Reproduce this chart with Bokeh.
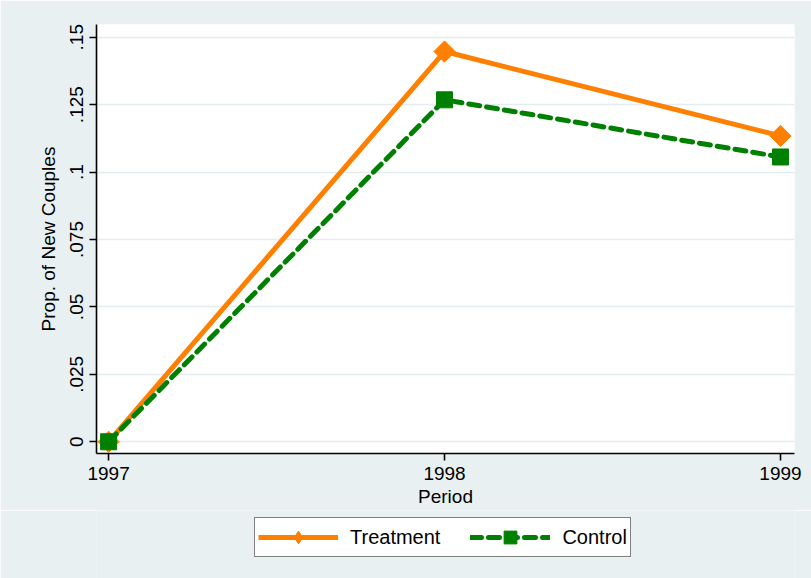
import numpy as np
from bokeh.plotting import figure
from bokeh.models import FixedTicker, Range1d, Legend, LegendItem, BoxAnnotation
from bokeh.layouts import column
from bokeh.embed import file_html
from bokeh.resources import INLINE

years = [1997, 1998, 1999]
treatment = [0.0, 0.1447, 0.1134]
control = [0.0, 0.1268, 0.1056]
y_ticks = [0, 0.025, 0.05, 0.075, 0.1, 0.125, 0.15]
y_tick_labels = ["0", ".025", ".05", ".075", ".1", ".125", ".15"]
x_ticks = [1997, 1998, 1999]
series_names = ["Treatment", "Control"]

BG = "#E8F0F2"
ORANGE = "#FF7F00"
GREEN = "#008000"
FONT = "Liberation Sans"
DASH = "11 7"

p = figure(width=811, height=510, output_backend="svg", toolbar_location=None,
           x_range=Range1d(1996.964, 1999.0417), y_range=Range1d(-0.00435, 0.15472),
           min_border_left=96, min_border_right=17, min_border_top=24, min_border_bottom=57)
p.border_fill_color = BG
p.background_fill_color = "white"
p.outline_line_color = None

p.xaxis.ticker = FixedTicker(ticks=x_ticks)
p.yaxis.ticker = FixedTicker(ticks=y_ticks)
p.yaxis.major_label_overrides = {t: l for t, l in zip(y_ticks, y_tick_labels)}
p.yaxis.major_label_orientation = "vertical"
for ax in (p.xaxis, p.yaxis):
    ax.axis_line_color = "black"
    ax.axis_line_width = 1.6
    ax.major_tick_line_color = "black"
    ax.major_tick_line_width = 1.6
    ax.major_tick_in = 0
    ax.major_tick_out = 7
    ax.minor_tick_line_color = None
    ax.major_label_text_font = FONT
    ax.major_label_text_font_size = "19px"
    ax.major_label_text_color = "black"
    ax.axis_label_text_font = FONT
    ax.axis_label_text_font_size = "19px"
    ax.axis_label_text_font_style = "normal"
    ax.axis_label_text_color = "black"
p.xaxis.axis_label = "Period"
p.yaxis.axis_label = "Prop. of New Couples"
p.xaxis.major_label_standoff = 6
p.xaxis.axis_label_standoff = 3
p.yaxis.major_label_standoff = 6
p.yaxis.axis_label_standoff = 9

p.xgrid.grid_line_color = None
p.ygrid.grid_line_color = "#E3ECEF"
p.ygrid.grid_line_width = 1.5

p.line(years, treatment, line_color=ORANGE, line_width=5, line_join="round")
p.scatter(years, treatment, marker="square", angle=np.pi / 4, size=15,
          fill_color=ORANGE, line_color=ORANGE)
p.line(years, control, line_color=GREEN, line_width=5, line_dash=DASH,
       line_cap="round", line_join="round")
p.scatter(years, control, marker="square", size=16, fill_color=GREEN, line_color=GREEN)

# legend strip below the chart (its frame is aligned with the chart's frame)
q = figure(width=811, height=68, output_backend="svg", toolbar_location=None,
           x_range=Range1d(0, 1), y_range=Range1d(0, 1),
           min_border_left=0, min_border_right=0, min_border_top=0, min_border_bottom=0)
q.axis.visible = False
q.grid.visible = False
q.outline_line_color = None
q.border_fill_color = BG
q.background_fill_color = BG
q.background_fill_alpha = 1
q.add_layout(BoxAnnotation(fill_color=BG, fill_alpha=1, line_color=None, level="underlay"))
# same series, drawn out of this strip's visible range; only their legend glyphs show
ql1 = q.line(years, treatment, line_color=ORANGE, line_width=5)
qm1 = q.scatter(years, treatment, marker="diamond", size=15,
                fill_color=ORANGE, line_color=ORANGE)
ql2 = q.line(years, control, line_color=GREEN, line_width=5, line_dash=DASH, line_cap="round")
qm2 = q.scatter(years, control, marker="square", size=16, fill_color=GREEN, line_color=GREEN)

legend = Legend(items=[LegendItem(label=series_names[0], renderers=[ql1, qm1]),
                       LegendItem(label=series_names[1], renderers=[ql2, qm2])],
                orientation="horizontal", location=(158, 21))
legend.border_line_color = "black"
legend.border_line_width = 1.5
legend.background_fill_color = "white"
legend.background_fill_alpha = 1
legend.label_text_font = FONT
legend.label_text_font_size = "20px"
legend.label_text_color = "black"
legend.glyph_width = 80
legend.glyph_height = 32
legend.label_height = 20
legend.label_standoff = 12
legend.spacing = 30
legend.padding = 3
legend.margin = 0
q.add_layout(legend, "center")

layout = column(p, q, spacing=0)
open("out.html", "w").write(file_html(layout, INLINE))
